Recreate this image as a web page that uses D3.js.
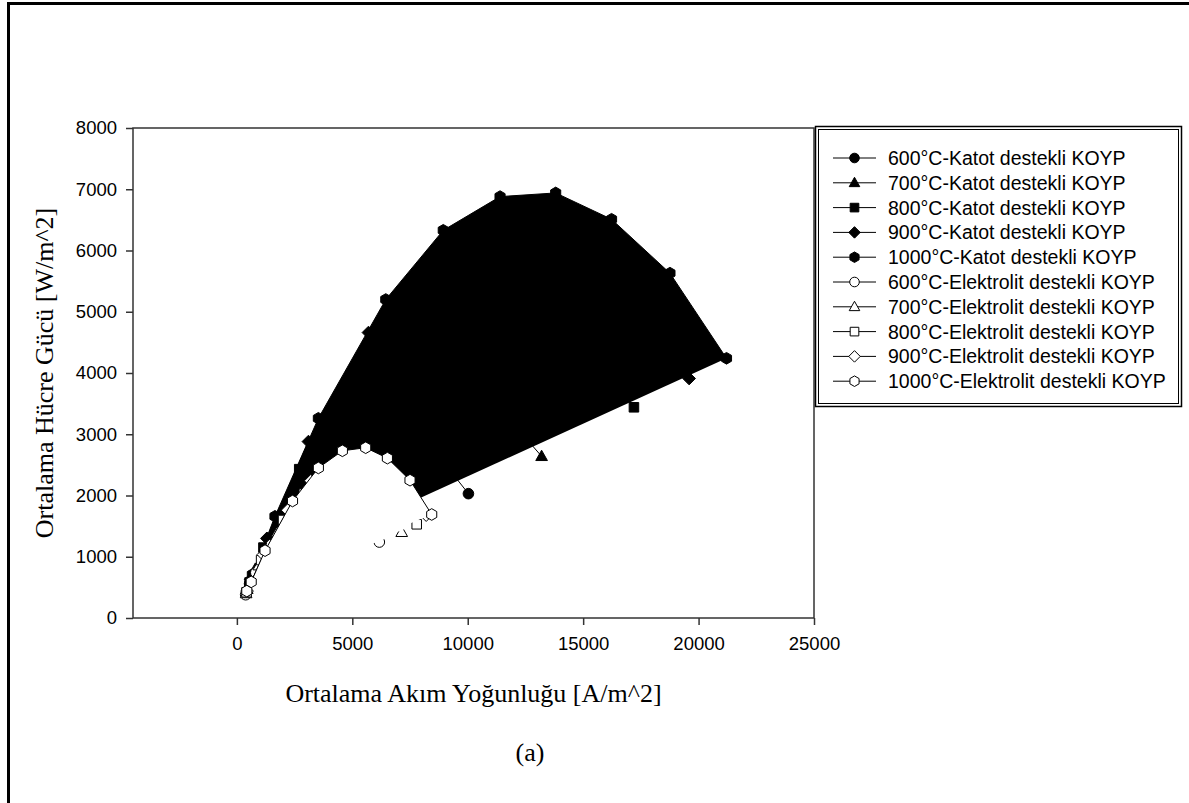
<!DOCTYPE html>
<html>
<head>
<meta charset="utf-8">
<script src="https://cdn.jsdelivr.net/npm/d3@7"></script>
<style>
  body { margin: 0; background: #fff; }
  text { fill: #000; }
</style>
</head>
<body>
<div id="chart"></div>
<script>
// series names, in legend order
var seriesNames = [
    "600°C-Katot destekli KOYP", "700°C-Katot destekli KOYP", "800°C-Katot destekli KOYP",
    "900°C-Katot destekli KOYP", "1000°C-Katot destekli KOYP",
    "600°C-Elektrolit destekli KOYP", "700°C-Elektrolit destekli KOYP", "800°C-Elektrolit destekli KOYP",
    "900°C-Elektrolit destekli KOYP", "1000°C-Elektrolit destekli KOYP"
];
var seriesSymbols = ["circle", "triangle", "square", "diamond", "hexagon",
                     "circle", "triangle", "square", "diamond", "hexagon"];

// [current density A/m^2, power W/m^2]
var katot600 = [[550,560],[1200,1080],[2200,1760],[3400,2380],[4700,2820],[6000,3000],[7400,2960],[8770,2630],[10030,2030]];
var katot700 = [[450,470],[800,800],[1800,1620],[3100,2480],[4600,3220],[6200,3720],[7900,3950],[9600,3840],[11400,3420],[13200,2640]];
var katot800 = [[550,580],[1150,1150],[2700,2430],[4400,3520],[6400,4480],[8500,5100],[10600,5300],[12800,5120],[15000,4500],[17200,3440]];
var katot900 = [[600,630],[1300,1300],[3100,2880],[5700,4660],[7600,5320],[9900,5940],[12300,6150],[14700,5880],[17100,5130],[19590,3910]];
var katot1000 = [[670,710],[1650,1660],[3530,3260],[6450,5200],[8940,6330],[11400,6880],[13810,6940],[16230,6510],[18760,5630],[21210,4240]];

var elek600 = [[380,380],[820,740],[1500,1200],[2200,1540],[2950,1770],[3700,1850],[4500,1800],[5300,1590],[6170,1240]];
var elek700 = [[400,400],[950,855],[1750,1400],[2600,1820],[3450,2070],[4350,2175],[5250,2100],[6200,1860],[7140,1400]];
var elek800 = [[420,420],[1050,945],[2000,1600],[2900,2030],[3850,2310],[4800,2400],[5800,2320],[6800,2040],[7790,1530]];
var elek900 = [[440,440],[1150,1035],[2200,1760],[3200,2240],[4200,2520],[5200,2600],[6200,2480],[7200,2160],[8200,1680]];
var elek1000 = [[430,440],[620,590],[1220,1100],[2410,1910],[3530,2450],[4570,2730],[5580,2780],[6520,2610],[7500,2250],[8440,1690]];

var allSeries = [katot600, katot700, katot800, katot900, katot1000,
                 elek600, elek700, elek800, elek900, elek1000];

var xTicks = [0, 5000, 10000, 15000, 20000, 25000];
var yTicks = [0, 1000, 2000, 3000, 4000, 5000, 6000, 7000, 8000];

var width = 1189, height = 803;
var plot = {left: 133, right: 814, top: 128, bottom: 618};

var svg = d3.select("#chart").append("svg")
    .attr("width", width)
    .attr("height", height);

// page frame (runs off right and bottom edge)
svg.append("rect")
    .attr("x", 8.5).attr("y", 3.5)
    .attr("width", 1250).attr("height", 850)
    .attr("fill", "none").attr("stroke", "#000").attr("stroke-width", 3);

var x = d3.scaleLinear().domain([-4500, 25000]).range([plot.left, plot.right]);
var y = d3.scaleLinear().domain([0, 8000]).range([plot.bottom, plot.top]);

var line = d3.line()
    .x(function(d) { return x(d[0]); })
    .y(function(d) { return y(d[1]); });

function symbolPath(type, r) {
    var p = d3.path();
    if (type == "circle") {
        p.moveTo(r, 0);
        p.arc(0, 0, r, 0, 2 * Math.PI);
    } else if (type == "triangle") {
        p.moveTo(0, -r * 1.15);
        p.lineTo(r * 1.1, r * 0.8);
        p.lineTo(-r * 1.1, r * 0.8);
        p.closePath();
    } else if (type == "square") {
        p.rect(-r * 0.9, -r * 0.9, r * 1.8, r * 1.8);
    } else if (type == "diamond") {
        p.moveTo(0, -r * 1.2);
        p.lineTo(r * 1.2, 0);
        p.lineTo(0, r * 1.2);
        p.lineTo(-r * 1.2, 0);
        p.closePath();
    } else {
        for (var k = 0; k < 6; k++) {
            var a = (-90 + 60 * k) * Math.PI / 180;
            if (k == 0) p.moveTo(r * 1.1 * Math.cos(a), r * 1.1 * Math.sin(a));
            else p.lineTo(r * 1.1 * Math.cos(a), r * 1.1 * Math.sin(a));
        }
        p.closePath();
    }
    return p.toString();
}

// axes
var xAxis = svg.append("g")
    .attr("transform", "translate(0," + plot.bottom + ")")
    .call(d3.axisBottom(x).tickValues(xTicks).tickFormat(d3.format("d"))
        .tickSize(7).tickSizeOuter(0).tickPadding(12));
var yAxis = svg.append("g")
    .attr("transform", "translate(" + plot.left + ",0)")
    .call(d3.axisLeft(y).tickValues(yTicks).tickFormat(d3.format("d"))
        .tickSize(7).tickSizeOuter(0).tickPadding(9));

[xAxis, yAxis].forEach(function(g) {
    g.select(".domain").remove();
    g.selectAll("line").attr("stroke", "#333").attr("stroke-width", 1.5);
    g.selectAll("text")
        .attr("font-family", "'Liberation Sans', Arial, sans-serif")
        .attr("font-size", 18.5)
        .attr("fill", "#000");
});

// the series: the last cathode curve and all electrolyte curves come out filled
allSeries.forEach(function(data, i) {
    var hollow = i >= 5;
    var fill = "none";
    if (i == 4) fill = "#000";
    if (hollow) fill = "#fff";

    svg.append("path")
        .datum(data)
        .attr("d", line)
        .attr("fill", fill)
        .attr("stroke", "#000")
        .attr("stroke-width", 1);

    svg.selectAll(".m" + i)
        .data(data)
        .enter().append("path")
        .attr("class", "m" + i)
        .attr("transform", function(d) { return "translate(" + x(d[0]) + "," + y(d[1]) + ")"; })
        .attr("d", symbolPath(seriesSymbols[i], 5.3))
        .attr("fill", hollow ? "#fff" : "#000")
        .attr("stroke", "#000")
        .attr("stroke-width", 1);
});

// plot frame
svg.append("rect")
    .attr("x", plot.left).attr("y", plot.top)
    .attr("width", plot.right - plot.left).attr("height", plot.bottom - plot.top)
    .attr("fill", "none").attr("stroke", "#333").attr("stroke-width", 1.5);

// axis titles
svg.append("text")
    .attr("x", (plot.left + plot.right) / 2).attr("y", 702)
    .attr("text-anchor", "middle")
    .attr("font-family", "'Liberation Serif', 'Times New Roman', serif")
    .attr("font-size", 26)
    .text("Ortalama Akım Yoğunluğu [A/m^2]");

svg.append("text")
    .attr("transform", "translate(53," + (plot.top + plot.bottom) / 2 + ") rotate(-90)")
    .attr("text-anchor", "middle")
    .attr("font-family", "'Liberation Serif', 'Times New Roman', serif")
    .attr("font-size", 26)
    .text("Ortalama Hücre Gücü [W/m^2]");

svg.append("text")
    .attr("x", 530).attr("y", 761)
    .attr("text-anchor", "middle")
    .attr("font-family", "'Liberation Serif', 'Times New Roman', serif")
    .attr("font-size", 26)
    .text("(a)");

// legend
var legend = svg.append("g");
legend.append("rect")
    .attr("x", 815.5).attr("y", 126.5).attr("width", 366).attr("height", 280)
    .attr("fill", "#fff").attr("stroke", "#000").attr("stroke-width", 1.5);
legend.append("rect")
    .attr("x", 818.5).attr("y", 129.5).attr("width", 360).attr("height", 274)
    .attr("fill", "none").attr("stroke", "#000").attr("stroke-width", 1);

var rows = legend.selectAll(".row")
    .data(seriesNames)
    .enter().append("g")
    .attr("class", "row")
    .attr("transform", function(d, i) { return "translate(0," + (158 + i * 24.8) + ")"; });

rows.append("line")
    .attr("x1", 833).attr("x2", 876).attr("y1", 0).attr("y2", 0)
    .attr("stroke", "#000").attr("stroke-width", 1);
rows.append("path")
    .attr("transform", "translate(854.5,0)")
    .attr("d", function(d, i) { return symbolPath(seriesSymbols[i], 4.8); })
    .attr("fill", function(d, i) { return i >= 5 ? "#fff" : "#000"; })
    .attr("stroke", "#000").attr("stroke-width", 1);
rows.append("text")
    .attr("x", 888).attr("y", 0).attr("dy", "0.36em")
    .attr("font-family", "'Liberation Sans', Arial, sans-serif")
    .attr("font-size", 19.5)
    .text(function(d) { return d; });
</script>
</body>
</html>
